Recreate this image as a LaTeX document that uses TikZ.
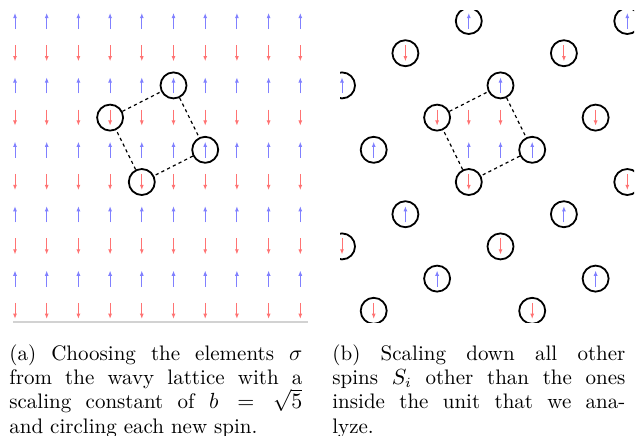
\documentclass[tikz,border=0pt]{standalone}
\usetikzlibrary{arrows.meta}
\tikzset{
  spinup/.style={draw=blue!50, line width=0.5pt, -{Latex[length=2.6pt,width=2pt]}},
  spindown/.style={draw=red!55, line width=0.5pt, -{Latex[length=2.6pt,width=2pt]}},
  site/.style={draw, circle, line width=0.9pt, minimum size=13pt, inner sep=0pt},
  bond/.style={line width=0.6pt, dash pattern=on 1.6pt off 1.6pt},
  subcap/.style={anchor=north west, inner sep=0pt, text width=146.5pt, align=justify,
    font=\fontsize{10.5}{12.2}\selectfont}
}
% one spin at lattice site (#1,#2), up on even rows, down on odd rows
\newcommand{\spinarrow}[2]{%
  \ifodd#2\relax
    \draw[spindown] (#1,#2-0.25) -- (#1,#2+0.25);
  \else
    \draw[spinup] (#1,#2+0.25) -- (#1,#2-0.25);
  \fi}
\begin{document}
\begin{tikzpicture}[x=0.5pt, y=-0.5pt]
    \useasboundingbox (0,0) rectangle (641,435);

    % Left: full lattice with the chosen spins circled
    \begin{scope}[shift={(15,21)}, x=15.85pt, y=-16.1pt]
        \foreach \i in {0,...,9} {
            \foreach \j in {0,...,9} {
                \spinarrow{\i}{\j}
            }
        }
        \node (a52) [site] at (5,2) {};
        \node (a33) [site] at (3,3) {};
        \node (a64) [site] at (6,4) {};
        \node (a45) [site] at (4,5) {};
        \draw[bond] (a33) -- (a52) -- (a64) -- (a45) -- (a33);
    \end{scope}
    \draw[gray!35, line width=0.6pt] (13,322) -- (308,322);

    % Right: only the new spins and the unit kept
    \begin{scope}
        \clip (340,10) rectangle (634,322);
        \begin{scope}[shift={(342,21)}, x=15.85pt, y=-16.1pt]
            \foreach \i in {0,...,9} {
                \foreach \j in {0,...,9} {
                    \pgfmathtruncatemacro{\rest}{mod(\i+2*\j,5)}
                    \ifnum\rest=4
                        \node (b\i\j) [site] at (\i,\j) {};
                        \spinarrow{\i}{\j}
                    \fi
                }
            }
            % spins inside the unit
            \spinarrow{4}{3}
            \spinarrow{5}{3}
            \spinarrow{4}{4}
            \spinarrow{5}{4}
            \draw[bond] (b33) -- (b52) -- (b64) -- (b45) -- (b33);
        \end{scope}
    \end{scope}

    % Captions
    \node (capa) [subcap] at (9,344) {(a) Choosing the elements $\sigma$\linebreak from the wavy lattice with a\linebreak scaling constant of $b=\sqrt{5}$\linebreak and circling each new spin.};
    \node (capb) [subcap] at (332,344) {(b) Scaling down all other\linebreak spins $S_i$ other than the ones\linebreak inside the unit that we ana-\linebreak lyze.};
\end{tikzpicture}
\end{document}
